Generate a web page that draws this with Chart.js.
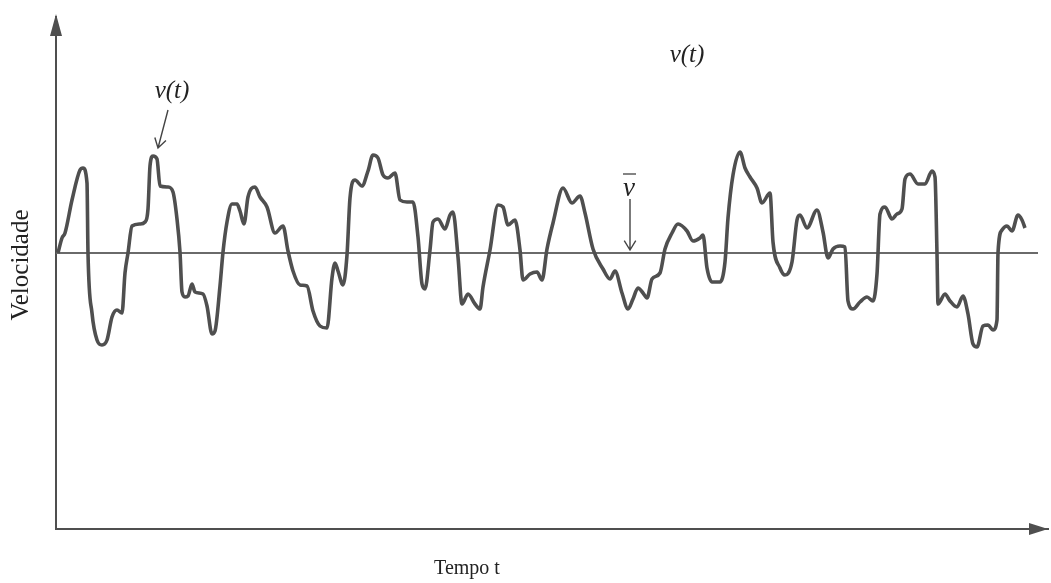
<!DOCTYPE html>
<html lang="pt">
<head>
<meta charset="utf-8">
<title>Velocidade em função do tempo</title>
<script src="https://cdn.jsdelivr.net/npm/chart.js@4.4.1/dist/chart.umd.min.js"></script>
<style>
  html, body { margin: 0; padding: 0; background: #fff; }
  #wrap { width: 1051px; height: 583px; }
  canvas { display: block; background: #fff; }
</style>
</head>
<body>
<div id="wrap"><canvas id="grafico" width="1051" height="583"></canvas></div>
<script>
// instantaneous velocity v(t) sampled along the record
const tempo = [
  2, 6, 9, 16, 24, 27, 31, 32, 36, 41, 46, 51, 56, 61, 66, 69, 72, 76, 84, 89,
  92, 94, 97, 101, 104, 112, 117, 121, 124, 126, 129, 132, 136, 139, 147, 151, 156, 159, 164, 167,
  171, 176, 181, 184, 188, 192, 199, 204, 211, 219, 227, 232, 237, 244, 251, 257, 264, 271, 276, 279,
  282, 287, 291, 294, 299, 306, 312, 317, 322, 327, 332, 339, 344, 351, 357, 362, 366, 369, 374, 377,
  382, 389, 394, 397, 402, 406, 412, 419, 424, 427, 434, 442, 447, 452, 459, 464, 467, 474, 481, 486,
  491, 497, 507, 516, 524, 529, 537, 547, 554, 559, 566, 572, 577, 582, 587, 591, 596, 604, 609, 616,
  622, 631, 637, 644, 647, 651, 656, 664, 669, 672, 677, 684, 689, 694, 701, 706, 714, 717, 724, 729,
  736, 741, 744, 751, 761, 767, 772, 777, 784, 789, 792, 797, 804, 811, 817, 821, 824, 829, 836, 841,
  846, 849, 854, 862, 869, 876, 879, 881, 882, 889, 894, 901, 907, 912, 917, 921, 927, 932, 937, 941,
  942, 946, 951, 956, 962, 966, 969
];
const velocidade = [
  276, 291, 296, 329, 359, 361, 346, 276, 216, 189, 184, 189, 212, 219, 216, 256, 276, 303, 305, 307,
  320, 363, 373, 370, 343, 342, 337, 310, 277, 237, 232, 233, 245, 237, 235, 223, 195, 198, 243, 277,
  307, 325, 325, 318, 305, 332, 342, 332, 322, 296, 303, 278, 258, 244, 243, 218, 203, 201, 251, 266,
  258, 244, 274, 331, 349, 343, 358, 374, 371, 354, 351, 356, 329, 327, 327, 292, 245, 240, 279, 307,
  310, 300, 314, 317, 272, 225, 235, 225, 220, 242, 279, 324, 322, 304, 309, 279, 249, 255, 257, 249,
  280, 306, 341, 326, 333, 316, 280, 260, 250, 258, 236, 220, 230, 241, 236, 231, 250, 256, 280, 296,
  305, 298, 288, 291, 294, 261, 247, 247, 267, 311, 354, 377, 361, 352, 341, 326, 336, 287, 261, 254,
  267, 309, 314, 301, 319, 297, 271, 280, 283, 282, 228, 220, 227, 232, 228, 255, 315, 322, 310, 315,
  320, 350, 355, 345, 345, 358, 352, 275, 225, 235, 228, 222, 233, 215, 185, 182, 203, 204, 199, 209,
  276, 299, 303, 298, 314, 309, 301
];
// mean velocity and the time span it is drawn over
const mediaV = 276;
const mediaTempo = [0, 982];

const TMAX = 992;
const VMAX = 512;
const CINZA = '#4f4f4f';

const curva = tempo.map((t, i) => ({ x: t, y: velocidade[i] }));
const linhaMedia = mediaTempo.map(t => ({ x: t, y: mediaV }));

// axis arrowheads, axis names and the v(t) / v-bar call-outs
const decor = {
  id: 'decor',
  afterDraw(chart) {
    const { ctx, chartArea: a, scales: { x, y } } = chart;
    const px = t => x.getPixelForValue(t);
    const py = v => y.getPixelForValue(v);
    ctx.save();

    ctx.fillStyle = CINZA;
    ctx.beginPath();
    ctx.moveTo(a.left, a.top - 3);
    ctx.lineTo(a.left - 6, a.top + 19);
    ctx.lineTo(a.left + 6, a.top + 19);
    ctx.closePath();
    ctx.fill();
    ctx.beginPath();
    ctx.moveTo(a.right, a.bottom);
    ctx.lineTo(a.right - 19, a.bottom - 6);
    ctx.lineTo(a.right - 19, a.bottom + 6);
    ctx.closePath();
    ctx.fill();

    ctx.fillStyle = '#222';
    ctx.textAlign = 'center';
    ctx.textBaseline = 'middle';
    ctx.font = '20px "Liberation Serif", serif';
    ctx.fillText('Tempo t', 467, 569);
    ctx.save();
    ctx.translate(21, 265);
    ctx.rotate(-Math.PI / 2);
    ctx.font = '25px "Liberation Serif", serif';
    ctx.fillText('Velocidade', 0, 0);
    ctx.restore();

    ctx.font = 'italic 25px "Liberation Serif", serif';
    ctx.fillText('v(t)', px(116), py(438));
    ctx.fillText('v(t)', px(631), py(474));

    // v-bar label with its overline
    ctx.font = 'italic 27px "Liberation Serif", serif';
    ctx.fillText('v', px(573), py(340));
    ctx.strokeStyle = '#333';
    ctx.lineWidth = 1.2;
    ctx.beginPath();
    ctx.moveTo(px(567), py(355));
    ctx.lineTo(px(580), py(355));
    ctx.stroke();

    // pointer arrows
    const seta = (x0, y0, x1, y1) => {
      ctx.beginPath();
      ctx.moveTo(x0, y0);
      ctx.lineTo(x1, y1);
      const ang = Math.atan2(y1 - y0, x1 - x0);
      const L = 11;
      ctx.moveTo(x1 - L * Math.cos(ang - 0.55), y1 - L * Math.sin(ang - 0.55));
      ctx.lineTo(x1, y1);
      ctx.lineTo(x1 - L * Math.cos(ang + 0.55), y1 - L * Math.sin(ang + 0.55));
      ctx.stroke();
    };
    ctx.strokeStyle = '#444';
    ctx.lineWidth = 1.4;
    seta(px(112), py(419), px(102), py(381));
    seta(px(574), py(330), px(574), py(mediaV + 3));

    ctx.restore();
  }
};

new Chart(document.getElementById('grafico'), {
  type: 'line',
  data: {
    datasets: [
      {
        label: 'v(t)',
        data: curva,
        borderColor: CINZA,
        borderWidth: 3.6,
        pointRadius: 0,
        cubicInterpolationMode: 'monotone',
        fill: false
      },
      {
        label: 'média',
        data: linhaMedia,
        borderColor: '#6a6a6a',
        borderWidth: 1.8,
        pointRadius: 0,
        fill: false
      }
    ]
  },
  options: {
    responsive: false,
    animation: false,
    layout: { padding: { top: 17, right: 3, left: 0, bottom: 0 } },
    plugins: {
      legend: { display: false },
      tooltip: { enabled: false }
    },
    scales: {
      x: {
        type: 'linear',
        min: 0,
        max: TMAX,
        grid: { display: false, drawTicks: false },
        ticks: { display: false },
        border: { display: true, color: CINZA, width: 2 },
        afterFit: s => { s.height = 54; }
      },
      y: {
        type: 'linear',
        min: 0,
        max: VMAX,
        grid: { display: false, drawTicks: false },
        ticks: { display: false },
        border: { display: true, color: CINZA, width: 2 },
        afterFit: s => { s.width = 56; }
      }
    }
  },
  plugins: [decor]
});
</script>
</body>
</html>
